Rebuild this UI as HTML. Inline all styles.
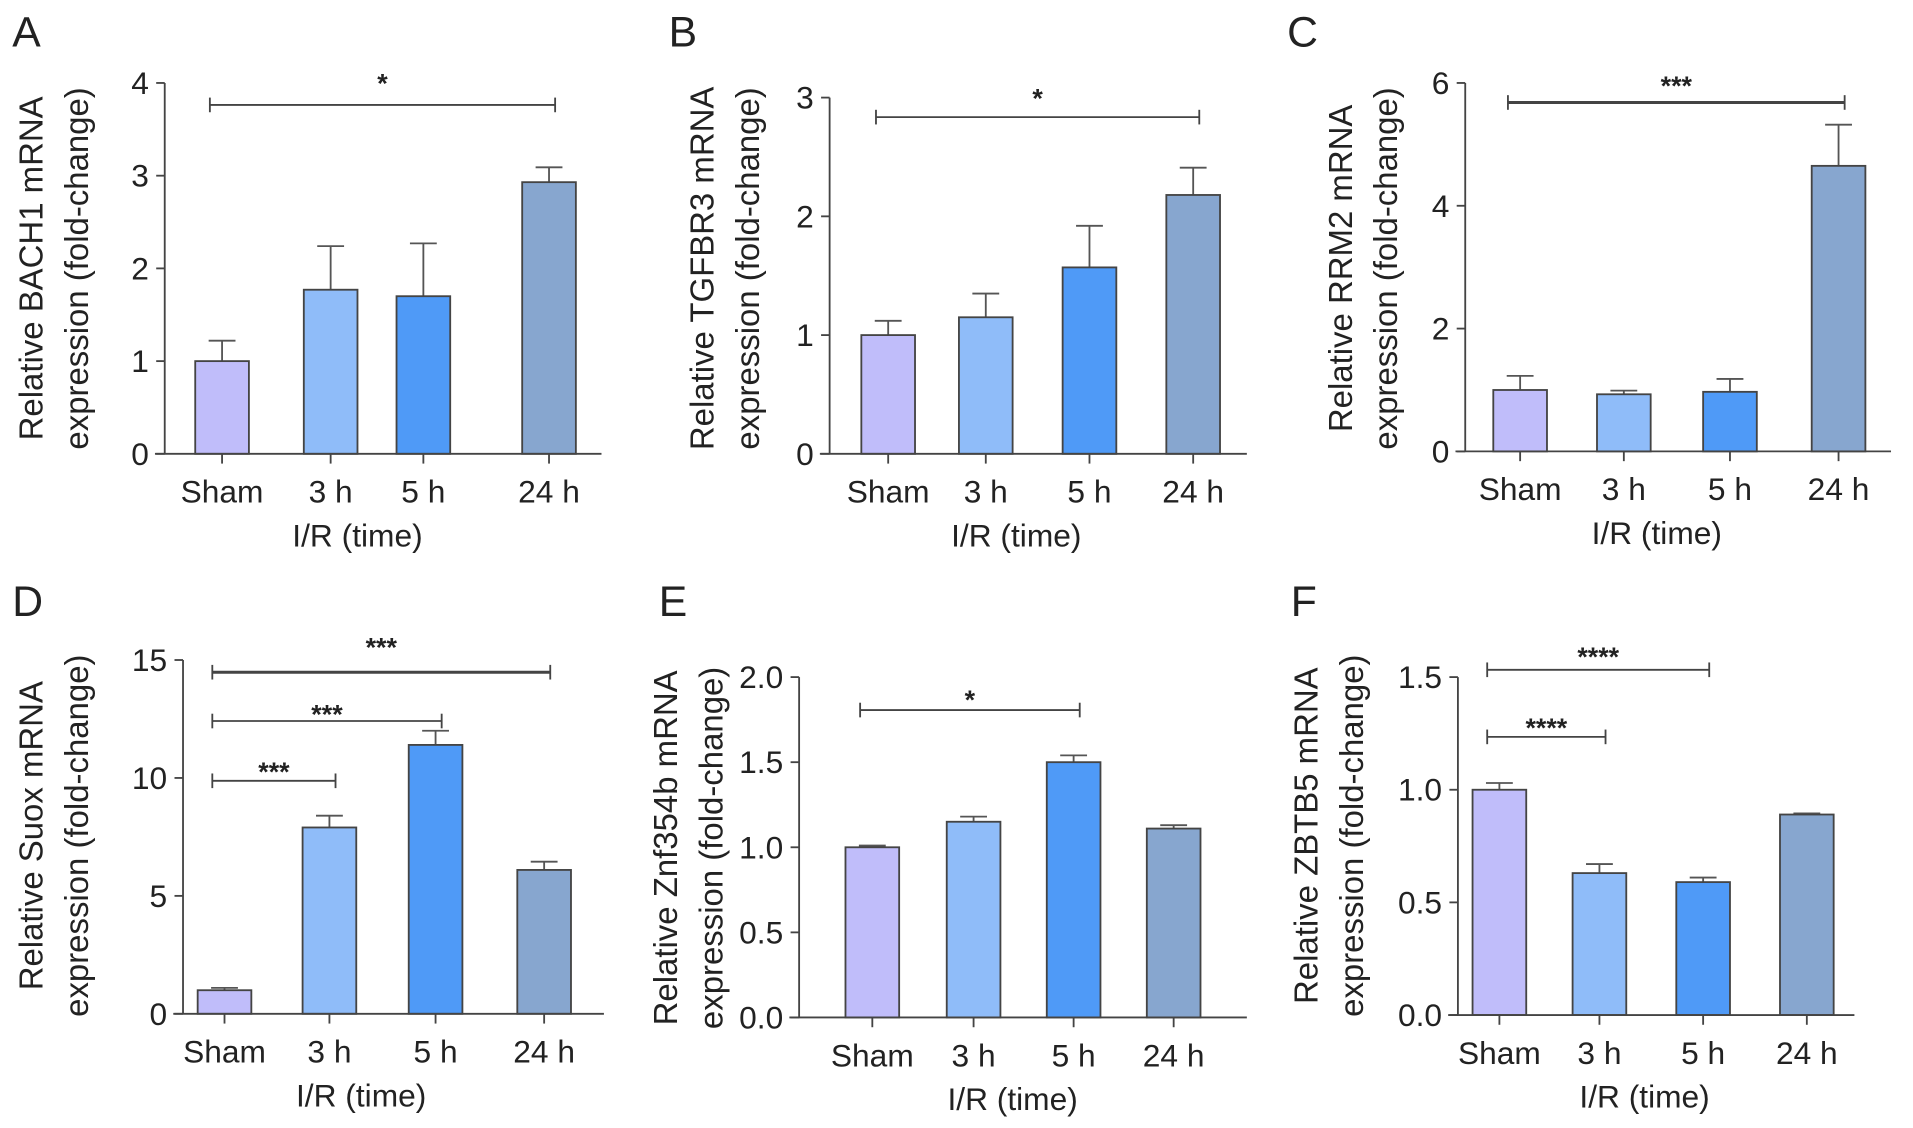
<!DOCTYPE html>
<html><head><meta charset="utf-8"><style>
html,body{margin:0;padding:0;background:#fff}
svg{display:block}
text{font-family:"Liberation Sans",sans-serif;fill:#222}
</style></head><body>
<svg id="fig" width="1913" height="1128" viewBox="0 0 1568 924.6"></svg>
<script>
const categories=["Sham","3 h","5 h","24 h"];
const valsA=[1.0,1.77,1.70,2.93], errA=[0.22,0.47,0.57,0.16];
const valsB=[1.0,1.15,1.57,2.18], errB=[0.12,0.20,0.35,0.23];
const valsC=[1.0,0.93,0.97,4.65], errC=[0.23,0.06,0.21,0.67];
const valsD=[1.0,7.9,11.4,6.1], errD=[0.1,0.5,0.6,0.35];
const valsE=[1.0,1.15,1.5,1.11], errE=[0.01,0.03,0.04,0.02];
const valsF=[1.0,0.63,0.59,0.89], errF=[0.03,0.04,0.02,0.005];
const ticksA=[0,1,2,3,4], ticksB=[0,1,2,3], ticksC=[0,2,4,6], ticksD=[0,5,10,15];
const ticksE=["0.0","0.5","1.0","1.5","2.0"], ticksF=["0.0","0.5","1.0","1.5"];
const colors=["#c0bdfa","#8fbcf9","#4f9af7","#87a6cf"];
const NS="http://www.w3.org/2000/svg";
const svg=document.getElementById('fig');
function mk(tag,attrs,parent,txt){const e=document.createElementNS(NS,tag);for(const k in attrs)e.setAttribute(k,attrs[k]);if(txt!==undefined)e.textContent=txt;(parent||svg).appendChild(e);return e;}
const panels=[
 {id:'a',L:'A',lx:10,ly:38,ax:135,y0:372,yt:68,xe:493,cx:[182,271,347,450],vals:valsA,err:errA,ticks:ticksA,max:4,gene:'BACH1',yl:[25,62,220],xt:293,
  sig:[{a:0,b:3,y:86,s:'*',thick:false,sy:68}]},
 {id:'b',L:'B',lx:548,ly:38,ax:680,y0:372,yt:80,xe:1022,cx:[728,808,893,978],vals:valsB,err:errB,ticks:ticksB,max:3,gene:'TGFBR3',yl:[575,612,220],xt:833,
  sig:[{a:0,b:3,y:96,s:'*',thick:false,sy:80}]},
 {id:'c',L:'C',lx:1055,ly:38,ax:1201,y0:370,yt:68,xe:1550,cx:[1246,1331,1418,1507],vals:valsC,err:errC,ticks:ticksC,max:6,gene:'RRM2',yl:[1098,1135,220],xt:1358,
  sig:[{a:0,b:3,y:84,s:'***',thick:true,sy:70}]},
 {id:'d',L:'D',lx:10,ly:505,ax:150,y0:831,yt:541,xe:495,cx:[184,270,357,446],vals:valsD,err:errD,ticks:ticksD,max:15,gene:'Suox',yl:[25,62,685],xt:296,
  sig:[{a:0,b:3,y:551,s:'***',thick:true,sy:530},{a:0,b:2,y:591,s:'***',thick:false,sy:585},{a:0,b:1,y:640,s:'***',thick:false,sy:632}]},
 {id:'e',L:'E',lx:540,ly:505,ax:655,y0:834,yt:555,xe:1022,cx:[715,798,880,962],vals:valsE,err:errE,ticks:ticksE,max:2,gene:'Znf354b',yl:[545,582,695],xt:830,
  sig:[{a:0,b:2,y:582,s:'*',thick:false,sy:573}]},
 {id:'f',L:'F',lx:1058,ly:505,ax:1195,y0:832,yt:555,xe:1520,cx:[1229,1311,1396,1481],vals:valsF,err:errF,ticks:ticksF,max:1.5,gene:'ZBTB5',yl:[1070,1107,685],xt:1348,
  sig:[{a:0,b:2,y:549,s:'****',thick:false,sy:538},{a:0,b:1,y:604,s:'****',thick:false,sy:596}]}
];
panels.forEach(p=>{
 const g=mk('g',{});
 
 
 const Y=v=>p.y0-(v/p.max)*(p.y0-p.yt);
 const lt=mk('text',{x:p.lx,y:p.ly,'font-size':35},g,p.L);
 
 
 p.vals.forEach((v,i)=>{
  const hw=22,x=p.cx[i];
  const eb=mk('g',{},g);
  
  
  const ye=Y(v+p.err[i]);
  mk('line',{x1:x,x2:x,y1:Y(v),y2:ye,stroke:'#555','stroke-width':1.5},eb);
  mk('line',{x1:x-11,x2:x+11,y1:ye,y2:ye,stroke:'#555','stroke-width':1.5},eb);
  const r=mk('rect',{x:x-hw,y:Y(v),width:2*hw,height:p.y0-Y(v),fill:colors[i],stroke:'#444','stroke-width':1.5},g);
  
  
  mk('line',{x1:x,x2:x,y1:p.y0,y2:p.y0+8,stroke:'#444','stroke-width':1.5},g);
  const cl=mk('text',{x:x,y:p.y0+40,'font-size':26,'text-anchor':'middle'},g,categories[i]);
  
  
 });
 const ya=mk('line',{x1:p.ax,x2:p.ax,y1:p.yt,y2:p.y0,stroke:'#444','stroke-width':1.5},g);
 
 
 const xa=mk('line',{x1:p.ax-8,x2:p.xe,y1:p.y0,y2:p.y0,stroke:'#444','stroke-width':1.5},g);
 
 
 p.ticks.forEach(t=>{
  const yy=Y(parseFloat(t));
  mk('line',{x1:p.ax-7,x2:p.ax,y1:yy,y2:yy,stroke:'#444','stroke-width':1.5},g);
  const tl=mk('text',{x:p.ax-13,y:yy+9,'font-size':26,'text-anchor':'end'},g,String(t));
  
  
 });
 const xt=mk('text',{x:p.xt,y:p.y0+76,'font-size':26,'text-anchor':'middle'},g,'I/R (time)');
 
 
 const yt1=mk('text',{x:0,y:0,'font-size':27,'text-anchor':'middle',transform:`translate(${p.yl[0]+10},${p.yl[2]}) rotate(-90)`},g,'Relative '+p.gene+' mRNA');
 
 
 const yt2=mk('text',{x:0,y:0,'font-size':27,'text-anchor':'middle',transform:`translate(${p.yl[1]+10},${p.yl[2]}) rotate(-90)`},g,'expression (fold-change)');
 
 
 p.sig.forEach(s=>{
  const sg=mk('g',{},g);
  
  
  const x1=p.cx[s.a]-10,x2=p.cx[s.b]+5,sw=s.thick?2.5:1.5;
  mk('line',{x1:x1,x2:x2,y1:s.y,y2:s.y,stroke:'#444','stroke-width':sw},sg);
  mk('line',{x1:x1,x2:x1,y1:s.y-6,y2:s.y+6,stroke:'#444','stroke-width':1.5},sg);
  mk('line',{x1:x2,x2:x2,y1:s.y-6,y2:s.y+6,stroke:'#444','stroke-width':1.5},sg);
  mk('text',{x:(x1+x2)/2,y:s.sy+8,'font-size':22,'text-anchor':'middle','font-weight':'bold'},sg,s.s);
 });
});
</script>
</body></html>
